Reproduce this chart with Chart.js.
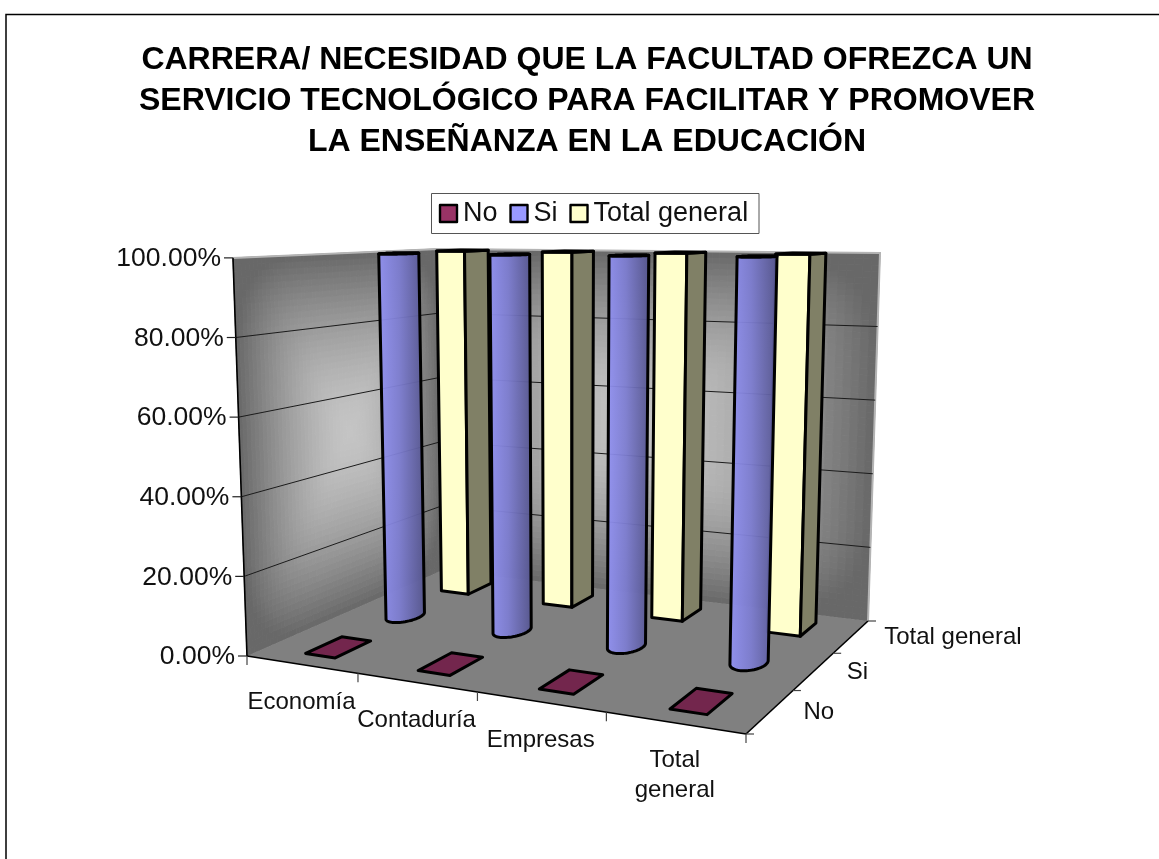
<!DOCTYPE html>
<html>
<head>
<meta charset="utf-8">
<style>html,body{margin:0;padding:0;background:#fff}canvas{display:block}</style>
<script src="https://cdn.jsdelivr.net/npm/chart.js@4"></script>
</head>
<body>
<canvas id="chart" width="1159" height="859"></canvas>
<script>
const titleLines = [
  'CARRERA/ NECESIDAD QUE LA FACULTAD OFREZCA UN',
  'SERVICIO TECNOLÓGICO PARA FACILITAR Y PROMOVER',
  'LA ENSEÑANZA EN LA EDUCACIÓN'
];
const careers = ['Economía', 'Contaduría', 'Empresas', 'Total general'];
const seriesNames = ['No', 'Si', 'Total general'];
const noValues = [0, 0, 0, 0];
const siValues = [1, 1, 1, 1];
const totalValues = [1, 1, 1, 1];
const seriesColors = ['#993366', '#9999ff', '#ffffcc'];
const seriesShapes = ['box', 'cylinder', 'box'];

const FONT = '"Liberation Sans", Arial, sans-serif';

// Solve the plane transform taking the unit square onto a quadrilateral.
function planeMap(q) {
  const [p0, p1, p2, p3] = q;
  const dx1 = p1[0] - p2[0], dx2 = p3[0] - p2[0], sx = p0[0] - p1[0] + p2[0] - p3[0];
  const dy1 = p1[1] - p2[1], dy2 = p3[1] - p2[1], sy = p0[1] - p1[1] + p2[1] - p3[1];
  const det = dx1 * dy2 - dx2 * dy1;
  const g = (sx * dy2 - dx2 * sy) / det, h = (dx1 * sy - sx * dy1) / det;
  const a = p1[0] - p0[0] + g * p1[0], b = p3[0] - p0[0] + h * p3[0];
  const d = p1[1] - p0[1] + g * p1[1], e = p3[1] - p0[1] + h * p3[1];
  return (u, v) => {
    const k = g * u + h * v + 1;
    return [(a * u + b * v + p0[0]) / k, (d * u + e * v + p0[1]) / k];
  };
}

// Camera for the box: u along careers, v along series, w along the value axis.
// Uprights converge on a vanishing point far below the floor.
function makeCamera(chart) {
  const { left: L, right: R, top: T, bottom: B } = chart.chartArea;
  const floor = planeMap([[L, B], [R, B + 78], [R + 122, B - 35], [L + 196, B - 86]]);
  const roof = planeMap([[L - 14, T], [R + 10, T + 4], [R + 134, T - 5], [L + 196, T - 9]]);
  const vanishX = L + 322, vanishY = B + 9140;
  return (u, v, w) => {
    const a = floor(u, v), topY = roof(u, v)[1];
    const y = a[1] + (topY - a[1]) * w;
    return [vanishX + (a[0] - vanishX) * (vanishY - y) / (vanishY - a[1]), y];
  };
}

function poly(ctx, pts) {
  ctx.beginPath();
  pts.forEach((p, i) => i ? ctx.lineTo(p[0], p[1]) : ctx.moveTo(p[0], p[1]));
  ctx.closePath();
}

function seg(ctx, a, b) {
  ctx.beginPath();
  ctx.moveTo(a[0], a[1]);
  ctx.lineTo(b[0], b[1]);
  ctx.stroke();
}

function shade(hex, k) {
  const n = parseInt(hex.slice(1), 16);
  return `rgb(${Math.round((n >> 16) * k)},${Math.round(((n >> 8) & 255) * k)},${Math.round((n & 255) * k)})`;
}

// Wall shaded bright in the middle and dark at the rim, with softened corners.
function drawWall(ctx, at) {
  const N = 60;
  for (let i = 0; i < N; i++) {
    for (let j = 0; j < N; j++) {
      const s = (i + .5) / N, t = (j + .5) / N;
      const a = Math.abs(2 * s - 1), b = Math.abs(2 * t - 1);
      const d = Math.min(1, Math.pow(Math.pow(a, 5) + Math.pow(b, 5), .2));
      const c = Math.round(104 + 92 * (1 - Math.pow(d, 1.6)));
      ctx.fillStyle = ctx.strokeStyle = `rgb(${c},${c},${c})`;
      ctx.lineWidth = 1;
      poly(ctx, [at(i / N, j / N), at((i + 1) / N, j / N), at((i + 1) / N, (j + 1) / N), at(i / N, (j + 1) / N)]);
      ctx.fill();
      ctx.stroke();
    }
  }
}

function drawBox(ctx, cam, u, v, du, dv, w, color) {
  const a = cam(u - du, v - dv, 0), b = cam(u + du, v - dv, 0), c = cam(u + du, v + dv, 0);
  const at = cam(u - du, v - dv, w), bt = cam(u + du, v - dv, w), ct = cam(u + du, v + dv, w), dt = cam(u - du, v + dv, w);
  ctx.strokeStyle = '#000';
  ctx.lineWidth = 3;
  ctx.lineJoin = 'round';
  if (w > 0) {
    ctx.fillStyle = color;
    poly(ctx, [a, b, bt, at]);
    ctx.fill(); ctx.stroke();
    ctx.fillStyle = shade(color, .5);
    poly(ctx, [b, c, ct, bt]);
    ctx.fill(); ctx.stroke();
    ctx.fillStyle = color;
  } else {
    ctx.fillStyle = shade(color, .75);
  }
  poly(ctx, [at, bt, ct, dt]);
  ctx.fill(); ctx.stroke();
}

function drawCylinder(ctx, cam, u, v, ru, rv, w, color) {
  const N = 64, base = [], top = [];
  for (let i = 0; i < N; i++) {
    const t = i / N * Math.PI * 2;
    base.push(cam(u + ru * Math.cos(t), v + rv * Math.sin(t), 0));
    top.push(cam(u + ru * Math.cos(t), v + rv * Math.sin(t), w));
  }
  let il = 0, ir = 0;
  base.forEach((p, i) => { if (p[0] < base[il][0]) il = i; if (p[0] > base[ir][0]) ir = i; });
  const arc = step => { const out = []; for (let i = il; ; i = (i + step + N) % N) { out.push(i); if (i === ir) break; } return out; };
  const mean = idx => idx.reduce((s, i) => s + base[i][1], 0) / idx.length;
  const a1 = arc(1), a2 = arc(-1);
  const front = mean(a1) > mean(a2) ? a1 : a2;
  const back = front === a1 ? a2 : a1;
  const outline = front.map(i => base[i]).concat(back.slice().reverse().map(i => top[i]));
  const grad = ctx.createLinearGradient(Math.min(base[il][0], top[il][0]), 0, Math.max(base[ir][0], top[ir][0]), 0);
  grad.addColorStop(0, shade(color, .95));
  grad.addColorStop(.45, shade(color, .82));
  grad.addColorStop(1, shade(color, .56));
  ctx.globalAlpha = .94;
  ctx.fillStyle = grad;
  poly(ctx, outline);
  ctx.fill();
  ctx.globalAlpha = 1;
  ctx.strokeStyle = '#000';
  ctx.lineWidth = 3;
  ctx.lineJoin = 'round';
  ctx.stroke();
  poly(ctx, top);
  ctx.fillStyle = grad;
  ctx.fill();
  ctx.stroke();
}

const box3d = {
  id: 'box3d',
  // Bars are projected into the box below, so the flat ones are skipped.
  beforeDatasetDraw() { return false; },
  beforeDatasetsDraw(chart) {
    const ctx = chart.ctx, cam = makeCamera(chart), yS = chart.scales.y, area = chart.chartArea;
    ctx.save();

    // Outer frame: top and left rules.
    ctx.strokeStyle = '#000';
    ctx.lineWidth = 1.5;
    ctx.beginPath();
    ctx.moveTo(6, 859); ctx.lineTo(6, 14.5); ctx.lineTo(1159, 14.5);
    ctx.stroke();

    // Walls and floor.
    drawWall(ctx, (s, t) => cam(0, s, t));
    drawWall(ctx, (s, t) => cam(s, 1, t));
    ctx.fillStyle = '#808080';
    poly(ctx, [cam(0, 0, 0), cam(1, 0, 0), cam(1, 1, 0), cam(0, 1, 0)]);
    ctx.fill();

    // Light rim on the top and right of the walls.
    ctx.strokeStyle = '#b4b4b4';
    ctx.lineWidth = 2;
    ctx.beginPath();
    [cam(0, 0, 1), cam(0, 1, 1), cam(1, 1, 1), cam(1, 1, 0)].forEach((p, i) => i ? ctx.lineTo(p[0], p[1]) : ctx.moveTo(p[0], p[1]));
    ctx.stroke();

    // Value gridlines along both walls.
    ctx.strokeStyle = '#1a1a1a';
    ctx.lineWidth = 1;
    yS.ticks.forEach(t => {
      const w = (area.bottom - yS.getPixelForValue(t.value)) / area.height;
      if (w <= 0 || w >= 1) return;
      ctx.beginPath();
      const a = cam(0, 0, w), b = cam(0, 1, w), c = cam(1, 1, w);
      ctx.moveTo(a[0], a[1]); ctx.lineTo(b[0], b[1]); ctx.lineTo(c[0], c[1]);
      ctx.stroke();
    });
    ctx.restore();
  },
  afterDatasetsDraw(chart) {
    const ctx = chart.ctx, cam = makeCamera(chart), area = chart.chartArea;
    const { x: xS, y: yS, z: zS } = chart.scales;
    const toU = px => (px - area.left) / area.width;
    const toV = px => (area.bottom - px) / area.height;
    const toW = px => (area.bottom - px) / area.height;
    ctx.save();

    // Paint the series from the back of the box to the front.
    const cat = 1 / careers.length;
    const dep = 1 / seriesNames.length;
    for (let ds = chart.data.datasets.length - 1; ds >= 0; ds--) {
      const set = chart.data.datasets[ds];
      const v = toV(zS.getPixelForValue(ds));
      set.data.forEach((val, i) => {
        const u = toU(xS.getPixelForValue(i));
        const w = toW(yS.getPixelForValue(val));
        if (set.shape === 'cylinder') drawCylinder(ctx, cam, u, v, cat * .13, dep * .22, w, set.backgroundColor);
        else if (w > 0) drawBox(ctx, cam, u, v + .015, cat * .135, dep * .21, w, set.backgroundColor);
        else drawBox(ctx, cam, u, v, cat * .135, dep * .25, w, set.backgroundColor);
      });
    }

    // Axis lines.
    ctx.strokeStyle = '#000';
    ctx.lineWidth = 1.6;
    seg(ctx, cam(0, 0, 0), cam(0, 0, 1));
    seg(ctx, cam(0, 0, 0), cam(1, 0, 0));
    seg(ctx, cam(1, 0, 0), cam(1, 1, 0));

    ctx.fillStyle = '#111';

    // Value axis ticks and labels follow the slanted front edge.
    ctx.font = `26.5px ${FONT}`;
    ctx.textAlign = 'right';
    ctx.textBaseline = 'middle';
    ctx.lineWidth = 1.2;
    yS.ticks.forEach(t => {
      const p = cam(0, 0, toW(yS.getPixelForValue(t.value)));
      ctx.strokeStyle = '#222';
      seg(ctx, [p[0] - 9, p[1]], p);
      ctx.fillText(t.label, p[0] - 12, p[1] + 1);
    });

    // Career ticks and labels under the front edge.
    ctx.font = `24px ${FONT}`;
    ctx.strokeStyle = '#444';
    ctx.textAlign = 'center';
    for (let i = 0; i <= careers.length; i++) {
      const p = cam(i / careers.length, 0, 0);
      seg(ctx, p, [p[0], p[1] + 9]);
    }
    careers.forEach((name, i) => {
      const p = cam(toU(xS.getPixelForValue(i)), 0, 0);
      name.split(' ').forEach((line, k) => ctx.fillText(line, p[0], p[1] + 38 + k * 30));
    });

    // Series ticks and labels along the right floor edge.
    ctx.textAlign = 'left';
    for (let i = 0; i <= seriesNames.length; i++) {
      const p = cam(1, i / seriesNames.length, 0);
      seg(ctx, p, [p[0] + 8, p[1]]);
    }
    seriesNames.forEach((name, i) => {
      const p = cam(1, toV(zS.getPixelForValue(i)), 0);
      ctx.fillText(name, p[0] + 33, p[1] + 1);
    });

    // Legend strip.
    ctx.strokeStyle = '#555';
    ctx.lineWidth = 1;
    ctx.strokeRect(431.5, 193.5, 327.5, 40);
    ctx.font = `27px ${FONT}`;
    let lx = 440;
    chart.data.datasets.forEach(set => {
      ctx.fillStyle = set.backgroundColor;
      ctx.fillRect(lx, 205, 17, 17);
      ctx.strokeStyle = '#000';
      ctx.lineWidth = 2.4;
      ctx.strokeRect(lx, 205, 17, 17);
      ctx.fillStyle = '#111';
      ctx.fillText(set.label, lx + 23, 214);
      lx += 23 + ctx.measureText(set.label).width + 13;
    });
    ctx.restore();
  }
};

new Chart(document.getElementById('chart'), {
  type: 'bar',
  plugins: [box3d],
  data: {
    labels: careers,
    datasets: [
      { label: seriesNames[0], data: noValues, backgroundColor: seriesColors[0], shape: seriesShapes[0] },
      { label: seriesNames[1], data: siValues, backgroundColor: seriesColors[1], shape: seriesShapes[1] },
      { label: seriesNames[2], data: totalValues, backgroundColor: seriesColors[2], shape: seriesShapes[2] }
    ]
  },
  options: {
    responsive: false,
    animation: false,
    events: [],
    layout: { padding: { left: 15 } },
    plugins: {
      legend: { display: false },
      tooltip: { enabled: false },
      title: {
        display: true,
        text: titleLines,
        color: '#000',
        align: 'center',
        font: { family: FONT, size: 32, weight: 'bold', lineHeight: 1.28 },
        padding: { top: 40, bottom: 95 }
      }
    },
    scales: {
      x: {
        type: 'category',
        offset: true,
        grid: { display: false },
        border: { display: false },
        ticks: { display: false },
        afterFit(s) { s.height = 203; }
      },
      y: {
        type: 'linear',
        min: 0,
        max: 1,
        grid: { display: false },
        border: { display: false },
        ticks: { display: false, stepSize: .2, callback: v => (v * 100).toFixed(2) + '%' },
        afterFit(s) { s.width = 232; }
      },
      z: {
        type: 'category',
        axis: 'y',
        position: 'right',
        labels: seriesNames,
        offset: true,
        reverse: true,
        grid: { display: false },
        border: { display: false },
        ticks: { display: false },
        afterFit(s) { s.width = 413; }
      }
    }
  }
});
</script>
</body>
</html>
